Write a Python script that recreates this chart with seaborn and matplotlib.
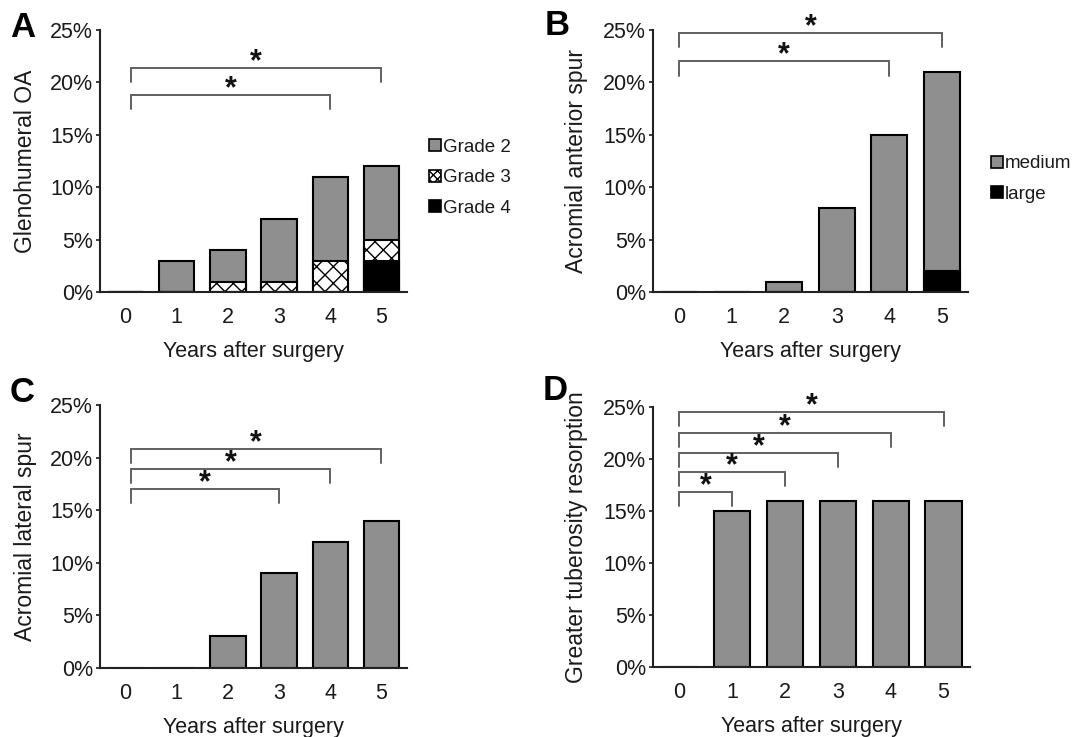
import matplotlib
matplotlib.use("Agg")
import matplotlib.pyplot as plt
import seaborn as sns
import pandas as pd
from matplotlib.patches import Patch

# ---------------- data ----------------
years = ["0", "1", "2", "3", "4", "5"]

# Panel A: Glenohumeral OA (percent)
oa_grade2 = [0, 3, 3, 6, 8, 7]
oa_grade3 = [0, 0, 1, 1, 3, 2]
oa_grade4 = [0, 0, 0, 0, 0, 3]

# Panel B: Acromial anterior spur (percent)
ant_medium = [0, 0, 1, 8, 15, 19]
ant_large = [0, 0, 0, 0, 0, 2]

# Panel C: Acromial lateral spur (percent)
lateral_spur = [0, 0, 3, 9, 12, 14]

# Panel D: Greater tuberosity resorption (percent)
gt_resorption = [0, 15, 16, 16, 16, 16]

ytick_values = [0, 5, 10, 15, 20, 25]
ytick_labels = ["0%", "5%", "10%", "15%", "20%", "25%"]

# significance brackets: (end year index, bracket height in %)
brackets_a = [(4, 18.8), (5, 21.4)]
brackets_b = [(4, 22.0), (5, 24.7)]
brackets_c = [(3, 17.0), (4, 18.9), (5, 20.8)]
brackets_d = [(1, 16.8), (2, 18.75), (3, 20.6), (4, 22.5), (5, 24.5)]

# ---------------- style ----------------
sns.set_theme(style="ticks")
plt.rcParams["font.family"] = ["Liberation Sans", "DejaVu Sans"]
plt.rcParams["hatch.linewidth"] = 1.0

GRAY = "#8f8f8f"
EDGE = "black"
BAR_W = 0.69
BRACKET_COLOR = "#606060"
TXT = "#1a1a1a"

fig = plt.figure(figsize=(10.85, 7.37), dpi=100)
W, H = 1085, 737


def axes_px(left, top, right, bottom):
    return fig.add_axes([left / W, 1 - bottom / H, (right - left) / W, (bottom - top) / H])


axA = axes_px(100, 30, 407, 292)
axB = axes_px(653, 30, 968, 292)
axC = axes_px(100, 405, 407, 668)
axD = axes_px(653, 407, 970, 667)


def bar(ax, values, color, hatch=None):
    df = pd.DataFrame({"year": years, "value": values})
    sns.barplot(data=df, x="year", y="value", order=years, ax=ax, color=color,
                edgecolor=EDGE, linewidth=1.5, width=BAR_W, hatch=hatch,
                saturation=1, errorbar=None)


def style_axes(ax, ylabel):
    ax.set_ylim(0, 25)
    ax.set_xlim(-0.5, 5.5)
    ax.set_yticks(ytick_values)
    ax.set_yticklabels(ytick_labels)
    sns.despine(ax=ax)
    for s in ("left", "bottom"):
        ax.spines[s].set_linewidth(1.5)
        ax.spines[s].set_color("#222222")
    ax.tick_params(axis="y", length=3, width=1.2, pad=2, labelsize=15.5, colors=TXT)
    ax.tick_params(axis="x", length=0, pad=11, labelsize=15.5, colors=TXT)
    ax.set_xlabel("Years after surgery", fontsize=15.5, color=TXT, labelpad=9)
    ax.set_ylabel(ylabel, fontsize=16.5, color=TXT)
    ax.yaxis.set_label_coords(-0.205, 0.5)


def draw_brackets(ax, brackets, start):
    drop = 1.35
    for end, h in brackets:
        ax.plot([start, start, end, end], [h - drop, h, h, h - drop],
                color=BRACKET_COLOR, lw=1.4, clip_on=False, solid_joinstyle="miter")
        ax.text((start + end) / 2, h - 0.2, "*", ha="center", va="baseline",
                fontsize=22, fontweight="bold", color="#111111", clip_on=False)


# ---- Panel A (stacked by overdraw of cumulative totals)
totA = [a + b + c for a, b, c in zip(oa_grade2, oa_grade3, oa_grade4)]
g34A = [b + c for b, c in zip(oa_grade3, oa_grade4)]
bar(axA, totA, GRAY)
bar(axA, g34A, "white", hatch="xx")
bar(axA, oa_grade4, "black")
style_axes(axA, "Glenohumeral OA")
draw_brackets(axA, brackets_a, 0.1)
handlesA = [Patch(facecolor=GRAY, edgecolor=EDGE, lw=1.2),
            Patch(facecolor="white", edgecolor=EDGE, lw=1.2, hatch="xxxx"),
            Patch(facecolor="black", edgecolor=EDGE, lw=1.2)]
fig.legend(handlesA, ["Grade 2", "Grade 3", "Grade 4"], loc="center left",
           bbox_to_anchor=(420 / W, 1 - 178 / H), frameon=False, fontsize=13.5,
           handlelength=0.6, handleheight=0.6, handletextpad=0.12,
           labelspacing=0.72, borderpad=0, labelcolor=TXT)

# ---- Panel B
totB = [a + b for a, b in zip(ant_medium, ant_large)]
bar(axB, totB, GRAY)
bar(axB, ant_large, "black")
style_axes(axB, "Acromial anterior spur")
draw_brackets(axB, brackets_b, 0.0)
handlesB = [Patch(facecolor=GRAY, edgecolor=EDGE, lw=1.2),
            Patch(facecolor="black", edgecolor=EDGE, lw=1.2)]
fig.legend(handlesB, ["medium", "large"], loc="center left",
           bbox_to_anchor=(982 / W, 1 - 179 / H), frameon=False, fontsize=13.5,
           handlelength=0.6, handleheight=0.6, handletextpad=0.12,
           labelspacing=0.72, borderpad=0, labelcolor=TXT)

# ---- Panel C
bar(axC, lateral_spur, GRAY)
style_axes(axC, "Acromial lateral spur")
draw_brackets(axC, brackets_c, 0.1)

# ---- Panel D
bar(axD, gt_resorption, GRAY)
style_axes(axD, "Greater tuberosity resorption")
draw_brackets(axD, brackets_d, 0.0)

# panel letters
for letter, x, y in [("A", 10, 37), ("B", 545, 35), ("C", 10, 402), ("D", 543, 400)]:
    fig.text(x / W, 1 - y / H, letter, fontsize=25, fontweight="bold",
             ha="left", va="baseline", color="black")

fig.savefig("out.png", dpi=100)
